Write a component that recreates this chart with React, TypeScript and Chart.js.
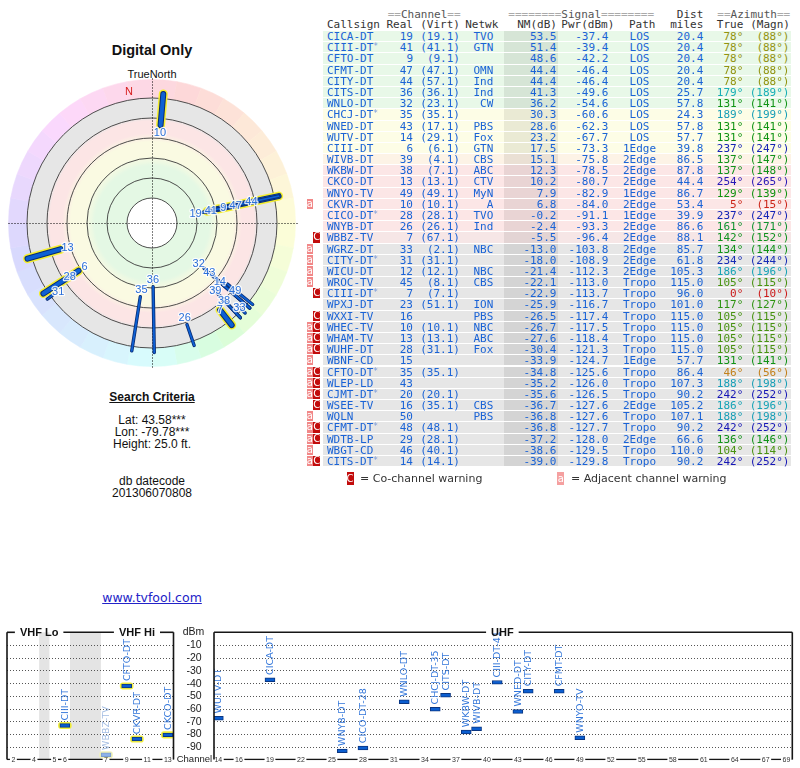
import React, { useEffect, useRef } from "react";
import { Chart, registerables } from "chart.js";

Chart.register(...registerables);

// ======================= DATA =======================
const callsigns = ["CICA-DT","CIII-DT*","CFTO-DT","CFMT-DT","CITY-DT","CITS-DT","WNLO-DT","CHCJ-DT*","WNED-DT","WUTV-DT","CIII-DT","WIVB-DT","WKBW-DT","CKCO-DT","WNYO-TV","CKVR-DT","CICO-DT*","WNYB-DT","WBBZ-TV","WGRZ-DT","CITY-DT*","WICU-DT","WROC-TV","CIII-DT*","WPXJ-DT","WXXI-TV","WHEC-TV","WHAM-TV","WUHF-DT","WBNF-CD","CFTO-DT*","WLEP-LD","CJMT-DT*","WSEE-TV","WQLN","CFMT-DT*","WDTB-LP","WBGT-CD","CITS-DT*"];
const realChannels = [19,41,9,47,44,36,32,35,43,14,6,39,38,13,49,10,28,26,7,33,31,12,45,7,23,16,10,13,28,15,35,43,20,16,50,48,29,46,14];
const virtualChannels = ["19.1","41.1","9.1","47.1","57.1","36.1","23.1","35.1","17.1","29.1","6.1","4.1","7.1","13.1","49.1","10.1","28.1","26.1","67.1","2.1","31.1","12.1","8.1","7.1","51.1","","10.1","13.1","31.1","","35.1","","20.1","35.1","","48.1","28.1","40.1","14.1"];
const networks = ["TVO","GTN","","OMN","Ind","Ind","CW","","PBS","Fox","GTN","CBS","ABC","CTV","MyN","A","TVO","Ind","","NBC","","NBC","CBS","","ION","PBS","NBC","ABC","Fox","","","","","CBS","PBS","","","",""];
const noiseMarginDb = [53.5,51.4,48.6,44.4,44.4,41.3,36.2,30.3,28.6,23.2,17.5,15.1,12.3,10.2,7.9,6.8,-0.2,-2.4,-5.5,-13.0,-18.0,-21.4,-22.1,-22.9,-25.9,-26.5,-26.7,-27.6,-30.4,-33.9,-34.8,-35.2,-35.6,-36.7,-36.8,-36.8,-37.2,-38.6,-39.0];
const powerDbm = [-37.4,-39.4,-42.2,-46.4,-46.4,-49.6,-54.6,-60.6,-62.3,-67.7,-73.3,-75.8,-78.5,-80.7,-82.9,-84.0,-91.1,-93.3,-96.4,-103.8,-108.9,-112.3,-113.0,-113.7,-116.7,-117.4,-117.5,-118.4,-121.3,-124.7,-125.6,-126.0,-126.5,-127.6,-127.6,-127.7,-128.0,-129.5,-129.8];
const paths = ["LOS","LOS","LOS","LOS","LOS","LOS","LOS","LOS","LOS","LOS","1Edge","2Edge","2Edge","2Edge","1Edge","2Edge","1Edge","2Edge","2Edge","2Edge","2Edge","2Edge","Tropo","Tropo","Tropo","Tropo","Tropo","Tropo","Tropo","1Edge","Tropo","Tropo","Tropo","2Edge","Tropo","Tropo","2Edge","Tropo","Tropo"];
const distanceMiles = [20.4,20.4,20.4,20.4,20.4,25.7,57.8,24.3,57.8,57.7,39.8,86.5,87.8,44.4,86.7,53.4,39.9,86.6,88.1,85.7,61.8,105.3,115.0,96.0,101.0,115.0,115.0,115.0,115.0,57.7,86.4,107.3,90.2,105.2,107.1,90.2,66.6,110.0,90.2];
const azimuthTrue = [78,78,78,78,78,179,131,189,131,131,237,137,137,254,129,5,237,161,142,134,234,186,105,0,117,105,105,105,105,131,46,188,242,186,188,242,136,104,242];
const azimuthMagnetic = [88,88,88,88,88,189,141,199,141,141,247,147,148,265,139,15,247,171,152,144,244,196,115,10,127,115,115,115,115,141,56,198,252,196,198,252,146,114,252];
const coChannelWarnRows = [18,23,25,26,27,28,30,31,32,33,35,36,38];
const adjChannelWarnRows = [15,19,20,21,22,26,27,28,29,30,31,32,34,35,36,37,38];

// spectrum labels for the stations drawn on the channel chart (rows 0..18)
const spectrumLabels = ["CICA-DT","CIII-DT-41","CFTO-DT","CFMT-DT","CITY-DT","CITS-DT","WNLO-DT","CHCJ-DT-35","WNED-DT","WUTV-DT","CIII-DT","WIVB-DT","WKBW-DT","CKCO-DT","WNYO-TV","CKVR-DT","CICO-DT-28","WNYB-DT","WBBZ-TV"];

// polar axis
const polarRingTicks = [-20, 0, 20, 40, 60, 80];
const polarMinNM = -20;
const magneticNorthTrue = 350;
const degreeLabels = Array.from({ length: 360 }, (_, i) => String(i));

// spectrum axes
const spectrumMinNM = -6;
const vhfChannelSlots: Record<number, number> = { 2: 0, 3: 1, 4: 2, 5: 4, 6: 5, 7: 9, 8: 10, 9: 11, 10: 12, 11: 13, 12: 14, 13: 15 };
const vhfTickChannels = [2, 4, 5, 6, 7, 9, 11, 13];
const uhfTickChannels = [14, 16, 19, 22, 25, 28, 31, 34, 37, 40, 43, 46, 49, 52, 55, 58, 61, 64, 67, 69];
const dbmTicks = [-10, -20, -30, -40, -50, -60, -70, -80, -90];
const vhfGapSlots = [[2.5, 3.5], [5.5, 8.5]];

// ======================= COLOURS =======================
type RGB = number[];
const rgb = (c: RGB) => `rgb(${c[0]},${c[1]},${c[2]})`;
function mixStops(stops: [number, RGB][], v: number): RGB {
  if (v >= stops[0][0]) return stops[0][1];
  for (let i = 1; i < stops.length; i++) {
    if (v >= stops[i][0]) {
      const [v0, c0] = stops[i - 1];
      const [v1, c1] = stops[i];
      const t = (v0 - v) / (v0 - v1);
      return c0.map((c, k) => Math.round(c + (c1[k] - c) * t));
    }
  }
  return stops[stops.length - 1][1];
}
const GREEN: RGB = [232, 248, 232], YELLOW: RGB = [253, 253, 230], PINK: RGB = [252, 230, 230], GRAY: RGB = [230, 230, 230];
const rowStops: [number, RGB][] = [[36, GREEN], [31, YELLOW], [17, YELLOW], [12.5, PINK], [-3, PINK], [-12, GRAY]];
const polarStops: [number, RGB][] = [[48, [228, 248, 228]], [38, [250, 250, 226]], [24, [250, 250, 226]], [15, [252, 229, 229]], [3, [252, 229, 229]], [-1, [230, 230, 230]]];

function interp(anchors: number[][], x: number) {
  for (let i = 1; i < anchors.length; i++) {
    if (x <= anchors[i][0]) {
      const [x0, y0] = anchors[i - 1];
      const [x1, y1] = anchors[i];
      return y0 + ((y1 - y0) * (x - x0)) / (x1 - x0);
    }
  }
  return anchors[anchors.length - 1][1];
}
const textHueAnchors = [[0, 0], [46, 36], [78, 60], [105, 95], [131, 122], [161, 135], [175, 180], [190, 190], [242, 240], [254, 246], [360, 360]];
function azimuthTextColor(az: number) {
  const h = interp(textHueAnchors, az);
  const l = h < 25 ? 45 : h < 50 ? 43 : h < 150 ? 32 : 40;
  const s = h >= 50 && h < 150 ? 80 : 78;
  return `hsl(${h.toFixed(0)},${s}%,${l}%)`;
}
const ringHueAnchors = [[0, -15], [45, 25], [90, 60], [135, 100], [160, 140], [180, 180], [210, 205], [250, 235], [285, 265], [320, 300], [360, 345]];
function ringColor(az: number) {
  const h = (interp(ringHueAnchors, az) + 360) % 360;
  return `hsl(${h.toFixed(0)},90%,92%)`;
}

// ======================= POLAR CHART =======================
const polarPlugin = {
  id: "polarDecor",
  beforeDraw(chart: any) {
    const s = chart.scales.r;
    const ctx = chart.ctx;
    const cx = s.xCenter, cy = s.yCenter;
    const rIn = s.getDistanceFromCenterForValue(polarMinNM);
    const rOut = s.getDistanceFromCenterForValue(-38.5);
    ctx.save();
    for (let a = 0; a < 360; a += 10) {
      const a0 = s.getIndexAngle(a) - Math.PI / 2;
      const a1 = a0 + (10 / 360) * Math.PI * 2;
      ctx.beginPath();
      ctx.arc(cx, cy, rOut, a0, a1);
      ctx.arc(cx, cy, rIn, a1, a0, true);
      ctx.closePath();
      ctx.fillStyle = ringColor(a + 5);
      ctx.strokeStyle = ringColor(a + 5);
      ctx.lineWidth = 0.6;
      ctx.fill();
      ctx.stroke();
    }
    const grad = ctx.createRadialGradient(cx, cy, 0, cx, cy, rIn);
    grad.addColorStop(0, rgb(mixStops(polarStops, 80)));
    for (let v = 80; v >= polarMinNM; v -= 1) {
      const r = s.getDistanceFromCenterForValue(v);
      grad.addColorStop(Math.min(1, r / rIn), rgb(mixStops(polarStops, v)));
    }
    ctx.beginPath();
    ctx.arc(cx, cy, rIn, 0, Math.PI * 2);
    ctx.fillStyle = grad;
    ctx.fill();
    ctx.beginPath();
    ctx.arc(cx, cy, s.getDistanceFromCenterForValue(80), 0, Math.PI * 2);
    ctx.fillStyle = "#ffffff";
    ctx.fill();
    ctx.restore();
  },
  afterDraw(chart: any) {
    const s = chart.scales.r;
    const ctx = chart.ctx;
    ctx.save();
    // dotted cross-hair
    ctx.setLineDash([1, 2]);
    ctx.strokeStyle = "#000";
    ctx.lineWidth = 1;
    [[0, 180], [90, 270]].forEach(([a, b]) => {
      const p = s.getPointPositionForValue(a, -40);
      const q = s.getPointPositionForValue(b, -40);
      ctx.beginPath();
      ctx.moveTo(Math.round(p.x) + 0.5, Math.round(p.y) + 0.5);
      ctx.lineTo(Math.round(q.x) + 0.5, Math.round(q.y) + 0.5);
      ctx.stroke();
    });
    ctx.setLineDash([]);

    const list = callsigns.map((_, i) => i).filter((i) => noiseMarginDb[i] >= polarMinNM);
    const outerV = -24.5;
    const seg = (i: number) => {
      const p = s.getPointPositionForValue(azimuthTrue[i], noiseMarginDb[i]);
      const q = s.getPointPositionForValue(azimuthTrue[i], outerV);
      ctx.beginPath();
      ctx.moveTo(p.x, p.y);
      ctx.lineTo(q.x, q.y);
    };
    ctx.lineCap = "round";
    list.forEach((i) => {
      if (realChannels[i] <= 13) {
        seg(i);
        ctx.strokeStyle = "#f4ee30";
        ctx.lineWidth = 9;
        ctx.stroke();
      }
    });
    list.slice().reverse().forEach((i) => {
      const vhf = realChannels[i] <= 13;
      seg(i);
      ctx.strokeStyle = "#0a2c72";
      ctx.lineWidth = vhf ? 6 : 3.4;
      ctx.stroke();
      seg(i);
      ctx.strokeStyle = "#0d60d4";
      ctx.lineWidth = vhf ? 4 : 1.8;
      ctx.stroke();
    });

    // channel labels with simple collision avoidance
    ctx.font = '11px "Liberation Sans", Arial, sans-serif';
    ctx.textAlign = "center";
    ctx.textBaseline = "middle";
    const placed: any[] = [];
    const items = list
      .map((i) => ({ i, r: s.getDistanceFromCenterForValue(noiseMarginDb[i]) - 7 }))
      .sort((a, b) => a.r - b.r);
    items.forEach(({ i, r }) => {
      const text = String(realChannels[i]);
      const w = ctx.measureText(text).width + 3;
      const h = 9;
      let rr = r;
      let box: any = null;
      let p: any = null;
      for (let k = 0; k < 300; k++) {
        p = s.getPointPosition(azimuthTrue[i], rr);
        box = { x0: p.x - w / 2, x1: p.x + w / 2, y0: p.y - h / 2, y1: p.y + h / 2 };
        const hit = placed.some((b) => !(box.x1 <= b.x0 || box.x0 >= b.x1 || box.y1 <= b.y0 || box.y0 >= b.y1));
        if (!hit) break;
        rr += 0.5;
      }
      placed.push(box);
      ctx.lineJoin = "round";
      ctx.strokeStyle = "rgba(255,255,255,0.85)";
      ctx.lineWidth = 2.5;
      ctx.strokeText(text, p.x, p.y + 0.5);
      ctx.fillStyle = "#2b6fd8";
      ctx.fillText(text, p.x, p.y + 0.5);
    });

    const n = s.getPointPositionForValue(magneticNorthTrue, -28);
    ctx.fillStyle = "#d82020";
    ctx.font = '11px "Liberation Sans", Arial, sans-serif';
    ctx.fillText("N", n.x, n.y);
    ctx.restore();
  },
};

function buildPolar(canvas: HTMLCanvasElement) {
  return new Chart(canvas, {
    type: "radar",
    data: { labels: degreeLabels, datasets: [] },
    options: {
      responsive: false,
      animation: false,
      layout: { padding: 25 },
      plugins: { legend: { display: false }, tooltip: { enabled: false } },
      scales: {
        r: {
          min: -20,
          max: 105,
          reverse: true,
          afterBuildTicks: (scale: any) => {
            scale.ticks = polarRingTicks.map((v) => ({ value: v }));
          },
          ticks: { display: false },
          pointLabels: { display: false },
          angleLines: { display: false },
          grid: { circular: true, color: "#3a3a3a", lineWidth: 0.9 },
        },
      },
    },
    plugins: [polarPlugin],
  } as any);
}

// ======================= SPECTRUM CHARTS =======================
function drawWithGaps(ctx: any, x0: number, x1: number, y: number, gaps: number[][]) {
  const g = gaps.slice().sort((a, b) => a[0] - b[0]);
  let cur = x0;
  g.forEach(([a, b]) => {
    if (a > cur) {
      ctx.beginPath();
      ctx.moveTo(cur, y);
      ctx.lineTo(Math.min(a, x1), y);
      ctx.stroke();
    }
    cur = Math.max(cur, b);
  });
  if (cur < x1) {
    ctx.beginPath();
    ctx.moveTo(cur, y);
    ctx.lineTo(x1, y);
    ctx.stroke();
  }
}

function buildSpectrum(canvas: HTMLCanvasElement, cfg: any) {
  const idx = callsigns
    .map((_, i) => i)
    .filter((i) => noiseMarginDb[i] >= spectrumMinNM && cfg.filter(realChannels[i]));
  const faded = (i: number) => noiseMarginDb[i] < -5;
  const markers = idx.map((i) => ({ x: cfg.toX(realChannels[i]), y: [powerDbm[i] - 1.5, powerDbm[i] + 1.5] }));
  const glowIdx = idx.filter((i) => realChannels[i] <= 13);
  const glows = glowIdx.map((i) => ({ x: cfg.toX(realChannels[i]), y: [powerDbm[i] - 2.5, powerDbm[i] + 2.5] }));

  const plugin = {
    id: "spectrumDecor",
    beforeDatasetsDraw(chart: any) {
      const { ctx, chartArea } = chart;
      const { left, right, top, bottom } = chartArea;
      const xs = chart.scales.x, ys = chart.scales.y;
      ctx.save();
      ctx.fillStyle = "#e4e4e4";
      cfg.shaded.forEach(([a, b]: number[]) => {
        const xa = xs.getPixelForValue(a), xb = xs.getPixelForValue(b);
        ctx.fillRect(xa, top, xb - xa, bottom - top);
      });
      ctx.strokeStyle = "#555";
      ctx.lineWidth = 1;
      ctx.setLineDash([1, 2]);
      dbmTicks.forEach((v) => {
        const y = Math.round(ys.getPixelForValue(v)) + 0.5;
        ctx.beginPath();
        ctx.moveTo(left, y);
        ctx.lineTo(right, y);
        ctx.stroke();
      });
      ctx.restore();
    },
    afterDatasetsDraw(chart: any) {
      const { ctx, chartArea } = chart;
      const { left, right, top, bottom } = chartArea;
      const xs = chart.scales.x, ys = chart.scales.y;
      ctx.save();
      // station labels
      ctx.font = '9.5px "DejaVu Sans", sans-serif';
      ctx.textAlign = "left";
      ctx.textBaseline = "middle";
      idx.forEach((i) => {
        const x = xs.getPixelForValue(cfg.toX(realChannels[i]));
        const y = ys.getPixelForValue(powerDbm[i] + 1.5) - 3;
        ctx.save();
        ctx.translate(x, y);
        ctx.rotate(-Math.PI / 2);
        ctx.fillStyle = faded(i) ? "#a3bde3" : "#3276da";
        ctx.fillText(spectrumLabels[i], 0, 0.5);
        ctx.restore();
      });
      // frame
      ctx.strokeStyle = "#161616";
      ctx.lineWidth = 1.6;
      ctx.beginPath();
      ctx.moveTo(left, top);
      ctx.lineTo(left, bottom);
      ctx.moveTo(right, top);
      ctx.lineTo(right, bottom);
      ctx.stroke();
      ctx.font = 'bold 11px "Liberation Sans", Arial, sans-serif';
      const tgaps = cfg.titles.map(([t, v]: any) => {
        const x = xs.getPixelForValue(v);
        const w = ctx.measureText(t).width;
        return [x - w / 2 - 5, x + w / 2 + 5];
      });
      drawWithGaps(ctx, left, right, top, tgaps);
      ctx.fillStyle = "#111";
      ctx.textAlign = "center";
      ctx.textBaseline = "middle";
      cfg.titles.forEach(([t, v]: any) => ctx.fillText(t, xs.getPixelForValue(v), top + 0.5));
      // bottom axis with channel ticks
      ctx.font = '7px "Liberation Sans", Arial, sans-serif';
      const bgaps = cfg.ticks.map((ch: number) => {
        const x = xs.getPixelForValue(cfg.toX(ch));
        const w = ctx.measureText(String(ch)).width;
        return [x - w / 2 - 1.5, x + w / 2 + 1.5];
      });
      ctx.lineWidth = 1.3;
      drawWithGaps(ctx, left, right, bottom, bgaps);
      ctx.fillStyle = "#333";
      cfg.ticks.forEach((ch: number) => ctx.fillText(String(ch), xs.getPixelForValue(cfg.toX(ch)), bottom + 0.5));
      if (cfg.yLabels) {
        ctx.fillStyle = "#1a1a1a";
        ctx.font = '10.5px "Liberation Sans", Arial, sans-serif';
        dbmTicks.forEach((v) => ctx.fillText(String(v), left - 20, ys.getPixelForValue(v) + 0.5));
        ctx.fillText("dBm", left - 20.5, top);
        ctx.font = '9.5px "Liberation Sans", Arial, sans-serif';
        ctx.fillText("Channel", left - 19.6, bottom);
      }
      ctx.restore();
    },
  };

  return new Chart(canvas, {
    type: "bar",
    data: {
      datasets: [
        {
          data: glows,
          backgroundColor: glowIdx.map((i) => (faded(i) ? "#f2f2b8" : "#f4f03c")),
          barThickness: 13,
          borderRadius: 3.5,
          borderSkipped: false,
          grouped: false,
          order: 2,
        },
        {
          data: markers,
          backgroundColor: idx.map((i) => (faded(i) ? "#8db2ea" : "#0b5ed0")),
          borderColor: idx.map((i) => (faded(i) ? "#7a9ccc" : "#0a3580")),
          borderWidth: 1,
          barThickness: 10,
          borderSkipped: false,
          grouped: false,
          order: 1,
        },
      ],
    },
    options: {
      responsive: false,
      animation: false,
      layout: { padding: cfg.padding },
      plugins: { legend: { display: false }, tooltip: { enabled: false } },
      scales: {
        x: { type: "linear", display: false, min: cfg.xMin, max: cfg.xMax, offset: false },
        y: { type: "linear", display: false, min: -100, max: 0, beginAtZero: false },
      },
    },
    plugins: [plugin],
  } as any);
}

const vhfConfig = {
  filter: (ch: number) => ch <= 13,
  toX: (ch: number) => vhfChannelSlots[ch],
  xMin: -0.62,
  xMax: 15.55,
  padding: { left: 7, right: 2.5, top: 10.3, bottom: 8.6 },
  ticks: vhfTickChannels,
  titles: [["VHF Lo", 2.5], ["VHF Hi", 12]],
  shaded: vhfGapSlots,
  yLabels: false,
};
const uhfConfig = {
  filter: (ch: number) => ch >= 14,
  toX: (ch: number) => ch,
  xMin: 13.58,
  xMax: 69.57,
  padding: { left: 39, right: 7.7, top: 10.3, bottom: 8.6 },
  ticks: uhfTickChannels,
  titles: [["UHF", 41.5]],
  shaded: [],
  yLabels: true,
};

// ======================= TABLE =======================
const ROW_TOP0 = 31.1;
const ROW_H = 11.18;
const MONO = '"DejaVu Sans Mono", monospace';
const TEXT_BLUE = "#1a63d6";

function Cell({ x, align, color, children }: any) {
  const style: any = { position: "absolute", top: 0, whiteSpace: "pre", color };
  if (align === "right") style.right = 800 - x;
  else if (align === "center") {
    style.left = x - 40;
    style.width = 80;
    style.textAlign = "center";
  } else style.left = x;
  return <span style={style}>{children}</span>;
}

function Badge({ left, width, bg, text, height }: any) {
  return (
    <div
      style={{
        position: "absolute",
        left,
        top: 0,
        width,
        height,
        background: bg,
        color: "#fff",
        fontFamily: '"DejaVu Sans", sans-serif',
        fontSize: 10,
        lineHeight: `${height}px`,
        textAlign: "center",
        overflow: "hidden",
      }}
    >
      {text}
    </div>
  );
}

function CallsignText({ cs }: any) {
  if (cs.endsWith("*")) {
    return (
      <>
        {cs.slice(0, -1)}
        <span style={{ fontSize: 8, position: "relative", top: -2, color: "#7a9ad8" }}>*</span>
      </>
    );
  }
  return <>{cs}</>;
}

function StationTable() {
  const G = (t: string) => <span style={{ color: "#aaa" }}>{t}</span>;
  const hdr = { position: "absolute" as const, left: 0, width: 800, height: ROW_H, lineHeight: `${ROW_H}px`, color: "#333" };
  return (
    <div style={{ position: "absolute", left: 0, top: 0, width: 800, fontFamily: MONO, fontSize: 11 }}>
      <div style={{ ...hdr, top: 8.7 }}>
        <Cell x={387.7}>{G("==")}<span style={{ color: "#555" }}>Channel</span>{G("==")}</Cell>
        <Cell x={508.3}>{G("========")}<span style={{ color: "#555" }}>Signal</span>{G("========")}</Cell>
        <Cell x={703.3} align="right">Dist</Cell>
        <Cell x={717.3}>{G("==")}<span style={{ color: "#555" }}>Azimuth</span>{G("==")}</Cell>
      </div>
      <div style={{ ...hdr, top: 19.4 }}>
        <Cell x={327}>Callsign</Cell>
        <Cell x={413} align="right">Real</Cell>
        <Cell x={460} align="right">(Virt)</Cell>
        <Cell x={498.3} align="right">Netwk</Cell>
        <Cell x={557} align="right">NM(dB)</Cell>
        <Cell x={614.3} align="right">Pwr(dBm)</Cell>
        <Cell x={642.2} align="center">Path</Cell>
        <Cell x={703.3} align="right">miles</Cell>
        <Cell x={743.3} align="right">True</Cell>
        <Cell x={790} align="right">(Magn)</Cell>
      </div>
      {callsigns.map((cs, i) => {
        const top = ROW_TOP0 + i * ROW_H;
        const azc = azimuthTextColor(azimuthTrue[i]);
        return (
          <div key={i} style={{ position: "absolute", left: 0, top, width: 800, height: ROW_H, lineHeight: `${ROW_H}px`, color: TEXT_BLUE }}>
            <div style={{ position: "absolute", left: 323, width: 468, top: 0, height: ROW_H - 1, background: rgb(mixStops(rowStops, noiseMarginDb[i])) }} />
            <div style={{ position: "absolute", left: 504, width: 54, top: 0, height: ROW_H - 1, background: "rgba(0,0,0,0.075)" }} />
            {adjChannelWarnRows.includes(i) && <Badge left={306.5} width={6.6} height={ROW_H - 1} bg="#f18888" text="a" />}
            {coChannelWarnRows.includes(i) && <Badge left={313.2} width={6.8} height={ROW_H - 1} bg="#c20c0c" text="C" />}
            <Cell x={327}><CallsignText cs={cs} /></Cell>
            <Cell x={413} align="right">{String(realChannels[i])}</Cell>
            <Cell x={460} align="right">{virtualChannels[i] ? `(${virtualChannels[i]})` : ""}</Cell>
            <Cell x={493.3} align="right">{networks[i]}</Cell>
            <Cell x={556.5} align="right">{noiseMarginDb[i].toFixed(1)}</Cell>
            <Cell x={608.3} align="right">{powerDbm[i].toFixed(1)}</Cell>
            <Cell x={639.5} align="center">{paths[i]}</Cell>
            <Cell x={703.3} align="right">{distanceMiles[i].toFixed(1)}</Cell>
            <Cell x={743.3} align="right" color={azc}>{`${azimuthTrue[i]}°`}</Cell>
            <Cell x={789.5} align="right" color={azc}>{`(${azimuthMagnetic[i]}°)`}</Cell>
          </div>
        );
      })}
      <div style={{ position: "absolute", left: 0, top: 472, width: 800, height: 13 }}>
        <Badge left={346.5} width={7} height={13} bg="#c20c0c" text="C" />
        <span style={{ position: "absolute", left: 360, top: 0, lineHeight: "13px", fontFamily: '"DejaVu Sans", sans-serif', fontSize: 11, color: "#333", whiteSpace: "pre" }}>= Co-channel warning</span>
        <Badge left={557.3} width={6.8} height={13} bg="#f5a0a0" text="a" />
        <span style={{ position: "absolute", left: 571, top: 0, lineHeight: "13px", fontFamily: '"DejaVu Sans", sans-serif', fontSize: 11, color: "#333", whiteSpace: "pre" }}>= Adjacent channel warning</span>
      </div>
    </div>
  );
}

// ======================= APP =======================
export default function App() {
  const polarRef = useRef<HTMLCanvasElement>(null);
  const vhfRef = useRef<HTMLCanvasElement>(null);
  const uhfRef = useRef<HTMLCanvasElement>(null);

  useEffect(() => {
    const charts = [
      buildPolar(polarRef.current as HTMLCanvasElement),
      buildSpectrum(vhfRef.current as HTMLCanvasElement, vhfConfig),
      buildSpectrum(uhfRef.current as HTMLCanvasElement, uhfConfig),
    ];
    return () => charts.forEach((c) => c.destroy());
  }, []);

  const leftText = (top: number, lh: number, extra: any, content: any) => (
    <div style={{ position: "absolute", left: 0, top, width: 304, textAlign: "center", lineHeight: `${lh}px`, ...extra }}>{content}</div>
  );

  return (
    <div
      style={{
        position: "absolute",
        left: 0,
        top: 0,
        width: 800,
        height: 768,
        overflow: "hidden",
        background: "#fff",
        fontFamily: '"Liberation Sans", Arial, sans-serif',
        color: "#111",
      }}
    >
      {leftText(42, 17, { fontWeight: "bold", fontSize: 14.5 }, "Digital Only")}
      {leftText(67.5, 13, { fontSize: 11 }, "TrueNorth")}
      <canvas ref={polarRef} width={300} height={300} style={{ position: "absolute", left: 2, top: 73, width: 300, height: 300 }} />
      {leftText(390.3, 14, { fontWeight: "bold", fontSize: 12 }, <span style={{ textDecoration: "underline" }}>Search Criteria</span>)}
      {leftText(414, 12.2, { fontSize: 12 }, (
        <>
          Lat: 43.58***<br />Lon: -79.78***<br />Height: 25.0 ft.
        </>
      ))}
      {leftText(476, 11.6, { fontSize: 12 }, (
        <>
          db datecode<br />201306070808
        </>
      ))}
      {leftText(591, 14, { fontSize: 12.5, fontFamily: '"DejaVu Sans", sans-serif' }, (
        <a href="http://www.tvfool.com" style={{ color: "#2323c8", textDecoration: "underline" }}>www.tvfool.com</a>
      ))}
      <StationTable />
      <canvas ref={vhfRef} width={176} height={146} style={{ position: "absolute", left: 0, top: 622, width: 176, height: 146 }} />
      <canvas ref={uhfRef} width={625} height={146} style={{ position: "absolute", left: 175, top: 622, width: 625, height: 146 }} />
    </div>
  );
}
